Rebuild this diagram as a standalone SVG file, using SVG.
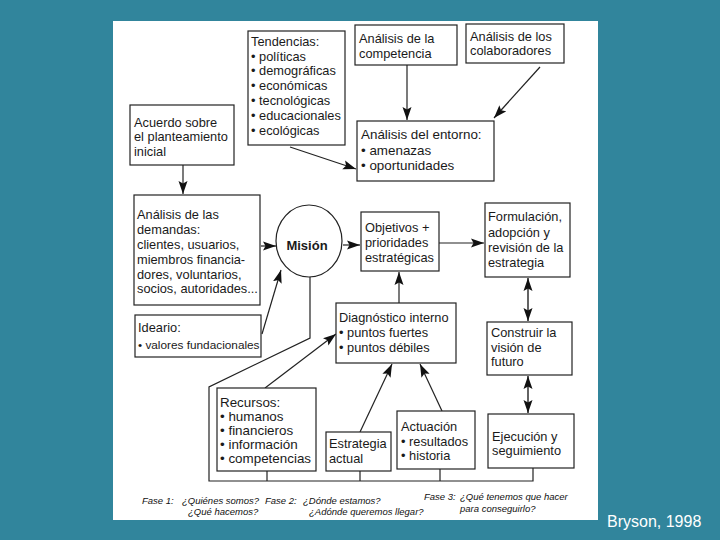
<svg xmlns="http://www.w3.org/2000/svg" width="720" height="540" viewBox="0 0 720 540">
<defs>
<marker id="ah" markerUnits="userSpaceOnUse" markerWidth="14" markerHeight="10" refX="13" refY="5" orient="auto-start-reverse">
<path d="M0,0.5 L13,5 L0,9.5 L2.5,5 z" fill="#111"/>
</marker>
<style>
.bx{fill:#fff;stroke:#222;stroke-width:1.2}
.ln{fill:none;stroke:#222;stroke-width:1.2}
.ar{fill:none;stroke:#222;stroke-width:1.2;marker-end:url(#ah)}
.da{fill:none;stroke:#222;stroke-width:1.4;marker-end:url(#ah);marker-start:url(#ah)}
text{font-family:"Liberation Sans",Arial,sans-serif;font-size:12.8px;fill:#1a1a1a}
.b{font-weight:bold;font-size:13px}
.f{font-style:italic;font-size:9.5px;fill:#111}
.big{font-size:13.4px}
.sm{font-size:11.8px}
.cr{font-size:16px;fill:#fff}
</style>
</defs>
<rect x="0" y="0" width="720" height="540" fill="#31859c"/>
<rect x="113" y="21" width="485" height="499" fill="#fff"/>

<g id="connectors">
<path class="ar" d="M290,147 L356,169"/>
<path class="ar" d="M407,65 L407,120"/>
<path class="ar" d="M540,67 L494,118"/>
<path class="ar" d="M183,165 L183,194"/>
<path class="ar" d="M261,246 L276,246"/>
<path class="ar" d="M343,245 L360,245"/>
<path class="ar" d="M439,243 L484,243"/>
<path class="ar" d="M262,334 L281,270"/>
<path class="ar" d="M265,388 L336,334"/>
<path class="ar" d="M360,432 L392,364"/>
<path class="ar" d="M442,411 L420,364"/>
<path class="ar" d="M399,303 L399,272"/>
<path class="da" d="M528,278 L528,321"/>
<path class="da" d="M528,376 L528,413"/>
<path class="ln" d="M310,277 L310,338 L209,387 L209,481 L533,481 L533,468"/>
<path class="ln" d="M267,471 L267,481 M360,471 L360,481 M440,469 L440,481"/>
</g>

<g id="tendencias">
<rect class="bx" x="248" y="31" width="97" height="114"/>
<text x="251" y="46">Tendencias:</text>
<text x="251" y="61">• políticas</text>
<text x="251" y="75">• demográficas</text>
<text x="251" y="90">• económicas</text>
<text x="251" y="105">• tecnológicas</text>
<text x="251" y="120">• educacionales</text>
<text x="251" y="135">• ecológicas</text>
</g>

<g id="competencia">
<rect class="bx" x="355" y="25" width="102" height="40"/>
<text x="359" y="43">Análisis de la</text>
<text x="359" y="58">competencia</text>
</g>

<g id="colaboradores">
<rect class="bx" x="466" y="24" width="98" height="39"/>
<text x="470" y="41">Análisis de los</text>
<text x="470" y="55">colaboradores</text>
</g>

<g id="acuerdo">
<rect class="bx" x="130" y="105" width="104" height="60"/>
<text x="134" y="127">Acuerdo sobre</text>
<text x="134" y="141">el planteamiento</text>
<text x="134" y="156">inicial</text>
</g>

<g id="entorno">
<rect class="bx" x="357" y="121" width="137" height="60"/>
<text class="big" x="361" y="139">Análisis del entorno:</text>
<text class="big" x="361" y="155">• amenazas</text>
<text class="big" x="361" y="170">• oportunidades</text>
</g>

<g id="demandas">
<rect class="bx" x="134" y="195" width="126" height="110"/>
<text x="137" y="219">Análisis de las</text>
<text x="137" y="234">demandas:</text>
<text x="137" y="249">clientes, usuarios,</text>
<text x="137" y="264">miembros financia-</text>
<text x="137" y="279">dores, voluntarios,</text>
<text x="137" y="293">socios, autoridades...</text>
</g>

<g id="mision">
<ellipse class="bx" cx="309" cy="241" rx="33" ry="36"/>
<text class="b" x="307" y="250" text-anchor="middle">Misión</text>
</g>

<g id="objetivos">
<rect class="bx" x="361" y="212" width="78" height="59"/>
<text x="365" y="232">Objetivos +</text>
<text x="365" y="247">prioridades</text>
<text x="365" y="262">estratégicas</text>
</g>

<g id="formulacion">
<rect class="bx" x="485" y="203" width="85" height="74"/>
<text x="488" y="221">Formulación,</text>
<text x="488" y="237">adopción y</text>
<text x="488" y="252">revisión de la</text>
<text x="488" y="267">estrategia</text>
</g>

<g id="ideario">
<rect class="bx" x="135" y="315" width="126" height="42"/>
<text x="138" y="332">Ideario:</text>
<text class="sm" x="138" y="349">• valores fundacionales</text>
</g>

<g id="diagnostico">
<rect class="bx" x="336" y="303" width="120" height="60"/>
<text x="339" y="322">Diagnóstico interno</text>
<text x="339" y="337">• puntos fuertes</text>
<text x="339" y="352">• puntos débiles</text>
</g>

<g id="construir">
<rect class="bx" x="487" y="322" width="85" height="53"/>
<text x="491" y="337">Construir la</text>
<text x="491" y="352">visión de</text>
<text x="491" y="366">futuro</text>
</g>

<g id="recursos">
<rect class="bx" x="217" y="388" width="99" height="83"/>
<text class="big" x="220" y="407">Recursos:</text>
<text class="big" x="220" y="421">• humanos</text>
<text class="big" x="220" y="435">• financieros</text>
<text class="big" x="220" y="449">• información</text>
<text class="big" x="220" y="463">• competencias</text>
</g>

<g id="estrategia">
<rect class="bx" x="326" y="432" width="65" height="39"/>
<text x="329" y="448">Estrategia</text>
<text x="329" y="463">actual</text>
</g>

<g id="actuacion">
<rect class="bx" x="397" y="411" width="78" height="58"/>
<text x="401" y="431">Actuación</text>
<text x="401" y="446">• resultados</text>
<text x="401" y="460">• historia</text>
</g>

<g id="ejecucion">
<rect class="bx" x="488" y="414" width="86" height="54"/>
<text x="492" y="441">Ejecución y</text>
<text x="492" y="455">seguimiento</text>
</g>

<g id="fases">
<text class="f" x="142" y="504">Fase 1:</text>
<text class="f" x="182" y="504">¿Quiénes somos?</text>
<text class="f" x="188" y="515">¿Qué hacemos?</text>
<text class="f" x="265" y="504">Fase 2:</text>
<text class="f" x="303" y="504">¿Dónde estamos?</text>
<text class="f" x="309" y="515">¿Adónde queremos llegar?</text>
<text class="f" x="424" y="500">Fase 3:</text>
<text class="f" x="460" y="500">¿Qué tenemos que hacer</text>
<text class="f" x="460" y="512">para conseguirlo?</text>
</g>

<text class="cr" x="607" y="527">Bryson, 1998</text>
</svg>
